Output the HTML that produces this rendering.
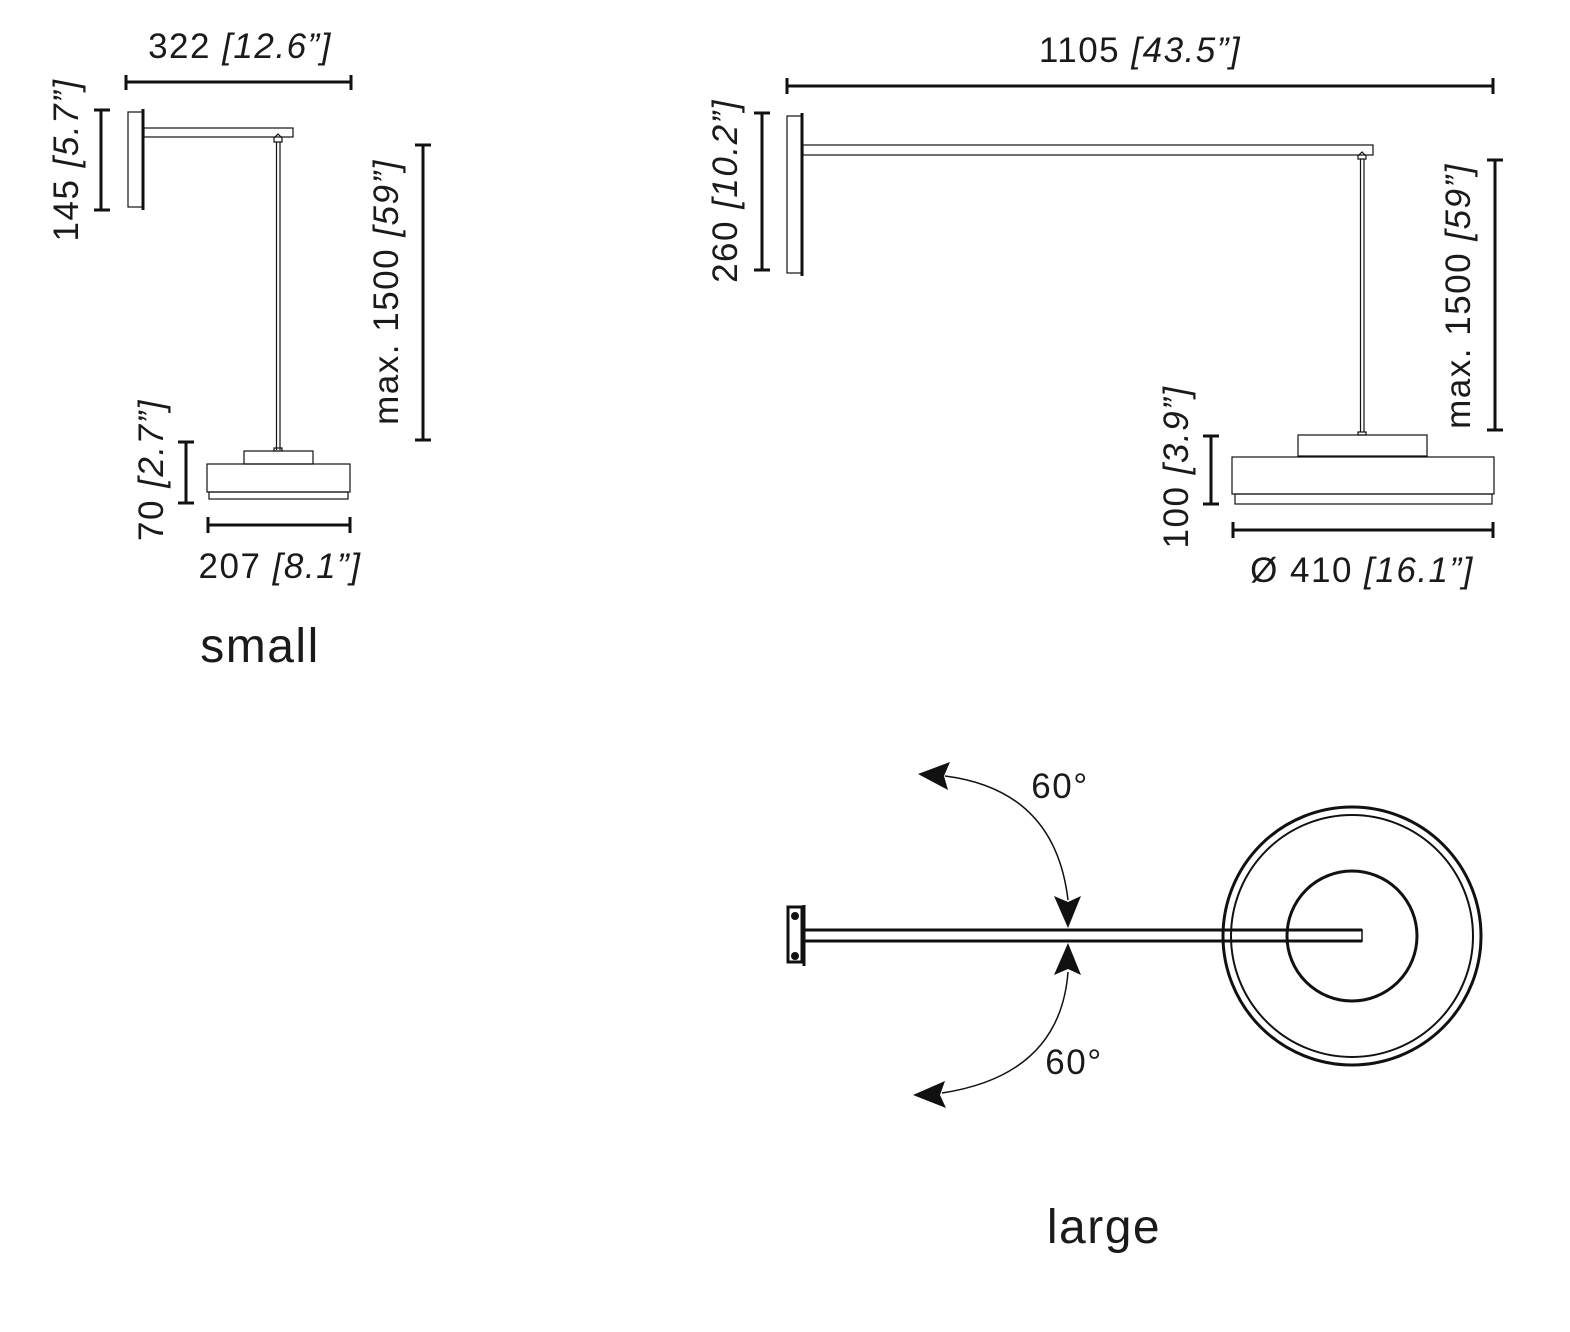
<!DOCTYPE html>
<html><head><meta charset="utf-8"><style>
html,body{margin:0;padding:0;background:#fff;}
svg{display:block;}
text{font-family:"Liberation Sans",sans-serif;fill:#1a1a1a;}
.i{font-style:italic;}
</style></head><body>
<svg width="1570" height="1332" viewBox="0 0 1570 1332" xmlns="http://www.w3.org/2000/svg">
<g stroke="#111" fill="none">
<!-- SMALL -->
<g stroke-width="3">
<line x1="126" y1="82" x2="351" y2="82"/><line x1="126" y1="75" x2="126" y2="90"/><line x1="351" y1="75" x2="351" y2="90"/>
<line x1="101" y1="110" x2="101" y2="210"/><line x1="94" y1="110" x2="110" y2="110"/><line x1="94" y1="210" x2="110" y2="210"/>
<line x1="423" y1="145" x2="423" y2="440"/><line x1="415" y1="145" x2="431" y2="145"/><line x1="415" y1="440" x2="431" y2="440"/>
<line x1="186" y1="442" x2="186" y2="503"/><line x1="178" y1="442" x2="194" y2="442"/><line x1="178" y1="503" x2="194" y2="503"/>
<line x1="208" y1="525" x2="350" y2="525"/><line x1="208" y1="517" x2="208" y2="533"/><line x1="350" y1="517" x2="350" y2="533"/>
<line x1="143" y1="109" x2="143" y2="210"/>
</g>
<g stroke-width="1.2">
<rect x="128" y="112" width="15" height="95"/>
<rect x="144" y="128" width="149" height="9"/>
<path d="M274 142 L274 138 L278 134 L282 138 L282 142 Z"/>
<line x1="276.5" y1="142" x2="276.5" y2="450"/><line x1="280" y1="142" x2="280" y2="450"/>
<rect x="274" y="448" width="8" height="3"/>
<rect x="244" y="451" width="69" height="13"/>
<rect x="207" y="464" width="143" height="28"/>
<rect x="209" y="492" width="139" height="7"/>
</g>
<!-- LARGE -->
<g stroke-width="3">
<line x1="787" y1="86" x2="1493" y2="86"/><line x1="787" y1="78" x2="787" y2="94"/><line x1="1493" y1="78" x2="1493" y2="94"/>
<line x1="762" y1="113" x2="762" y2="270"/><line x1="754" y1="113" x2="770" y2="113"/><line x1="754" y1="270" x2="770" y2="270"/>
<line x1="1495" y1="160" x2="1495" y2="430"/><line x1="1487" y1="160" x2="1503" y2="160"/><line x1="1487" y1="430" x2="1503" y2="430"/>
<line x1="1211" y1="436" x2="1211" y2="504"/><line x1="1203" y1="436" x2="1219" y2="436"/><line x1="1203" y1="504" x2="1219" y2="504"/>
<line x1="1233" y1="530" x2="1493" y2="530"/><line x1="1233" y1="522" x2="1233" y2="538"/><line x1="1493" y1="522" x2="1493" y2="538"/>
<line x1="802" y1="113" x2="802" y2="276"/>
</g>
<g stroke-width="1.2">
<rect x="787" y="116" width="15" height="157"/>
<rect x="803" y="145" width="570" height="10"/>
<path d="M1358 159 L1358 156 L1362 152 L1366 156 L1366 159 Z"/>
<line x1="1360.5" y1="159" x2="1360.5" y2="432"/><line x1="1364" y1="159" x2="1364" y2="432"/>
<rect x="1358" y="432" width="8" height="3"/>
<rect x="1298" y="435" width="129" height="21"/>
<rect x="1232" y="457" width="262" height="37"/>
<rect x="1235" y="494" width="257" height="10"/>
</g>
<!-- TOP VIEW -->
<g stroke-width="3">
<rect x="788" y="907" width="14" height="55"/>
<line x1="804" y1="905" x2="804" y2="966"/>
<line x1="805" y1="930" x2="1362" y2="930"/><line x1="805" y1="941" x2="1362" y2="941"/>
<line x1="1362" y1="929" x2="1362" y2="942" stroke-width="1.5"/>
<circle cx="1352" cy="936" r="129"/>
<circle cx="1352" cy="936" r="121" stroke-width="2"/>
<circle cx="1352" cy="936" r="65"/>
</g>
<g stroke-width="1.5">
<path d="M945 776 Q1055 790 1068 900"/>
<path d="M1068 972 Q1060 1075 942 1093"/>
</g>
</g>
<g fill="#111">
<circle cx="795" cy="916" r="4"/><circle cx="795" cy="956" r="4"/>
<path d="M1068 928 L1054 896 L1068 902 L1081 896 Z"/>
<path d="M1068 943 L1054 975 L1068 969 L1081 975 Z"/>
<path d="M918 774 L950 762 L944 776 L948 790 Z"/>
<path d="M913 1095 L945 1081 L940 1095 L946 1108 Z"/>
</g>
<!-- text -->
<g font-size="35" letter-spacing="1.5">
<text x="240" y="58" text-anchor="middle">322 <tspan class="i">[12.6”]</tspan></text>
<text transform="translate(78,160) rotate(-90)" text-anchor="middle">145 <tspan class="i">[5.7”]</tspan></text>
<text transform="translate(398,292) rotate(-90)" text-anchor="middle">max. 1500 <tspan class="i">[59”]</tspan></text>
<text transform="translate(163,470) rotate(-90)" text-anchor="middle">70 <tspan class="i">[2.7”]</tspan></text>
<text x="280" y="578" text-anchor="middle">207 <tspan class="i">[8.1”]</tspan></text>
<text x="1140" y="62" text-anchor="middle">1105 <tspan class="i">[43.5”]</tspan></text>
<text transform="translate(737,191) rotate(-90)" text-anchor="middle">260 <tspan class="i">[10.2”]</tspan></text>
<text transform="translate(1470,296) rotate(-90)" text-anchor="middle">max. 1500 <tspan class="i">[59”]</tspan></text>
<text transform="translate(1188,467) rotate(-90)" text-anchor="middle">100 <tspan class="i">[3.9”]</tspan></text>
<text x="1362" y="582" text-anchor="middle">Ø 410 <tspan class="i">[16.1”]</tspan></text>
<text x="1060" y="798" text-anchor="middle">60°</text>
<text x="1074" y="1074" text-anchor="middle">60°</text>
</g>
<text x="260" y="662" text-anchor="middle" font-size="48" letter-spacing="1.5">small</text>
<text x="1104" y="1243" text-anchor="middle" font-size="48" letter-spacing="1.5">large</text>
</svg>
</body></html>
